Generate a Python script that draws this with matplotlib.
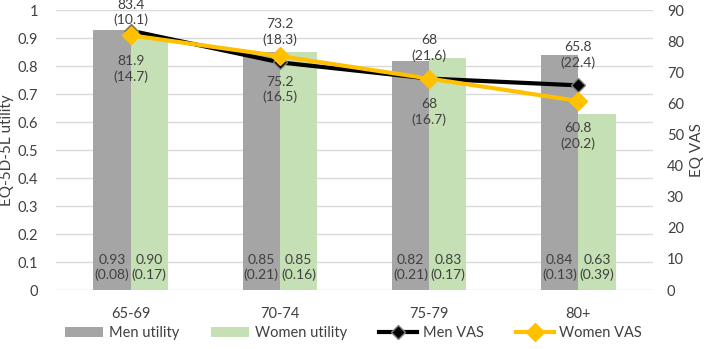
import matplotlib.pyplot as plt
import numpy as np

plt.rcParams['font.family'] = ['Lato', 'DejaVu Sans']

age_groups = ['65-69', '70-74', '75-79', '80+']
men_utility = [0.93, 0.85, 0.82, 0.84]
men_utility_sd = [0.08, 0.21, 0.21, 0.13]
women_utility = [0.90, 0.85, 0.83, 0.63]
women_utility_sd = [0.17, 0.16, 0.17, 0.39]
men_vas = [83.4, 73.2, 68, 65.8]
men_vas_sd = [10.1, 18.3, 21.6, 22.4]
women_vas = [81.9, 75.2, 68, 60.8]
women_vas_sd = [14.7, 16.5, 16.7, 20.2]

# label offsets (points) for the VAS labels, first men label pushed down to fit
men_lab_off = [13, 22, 22, 22]
women_lab_off = [-24, -24, -24, -25]

fig = plt.figure(figsize=(7.07, 3.49), dpi=100)
ax = fig.add_axes([0.0792, 0.169, 0.8444, 0.802])
ax2 = ax.twinx()

x = np.arange(len(age_groups))
w = 0.25
ax.bar(x - w / 2, men_utility, w, color='#A5A5A5', label='Men utility', zorder=2)
ax.bar(x + w / 2, women_utility, w, color='#C5E0B4', label='Women utility', zorder=2)

for i in range(len(x)):
    ax.text(x[i] - w / 2, 0.08, f"{men_utility[i]:.2f}\n({men_utility_sd[i]:.2f})",
            ha='center', va='center', fontsize=10, color='#404040', linespacing=1.3, zorder=3)
    ax.text(x[i] + w / 2, 0.08, f"{women_utility[i]:.2f}\n({women_utility_sd[i]:.2f})",
            ha='center', va='center', fontsize=10, color='#404040', linespacing=1.3, zorder=3)

ax2.plot(x, men_vas, color='black', lw=3, marker='D', ms=7, mfc='black', mec='#808080',
         label='Men VAS', zorder=3)
ax2.plot(x, women_vas, color='#FFC000', lw=3, marker='D', ms=9, mfc='#FFC000', mec='#FFC000',
         label='Women VAS', zorder=4)

for i in range(len(x)):
    ax2.annotate(f"{men_vas[i]:g}\n({men_vas_sd[i]:g})", (x[i], men_vas[i]),
                 xytext=(0, men_lab_off[i]), textcoords='offset points',
                 ha='center', va='center', fontsize=10, color='#404040', linespacing=1.3,
                 annotation_clip=False)
    ax2.annotate(f"{women_vas[i]:g}\n({women_vas_sd[i]:g})", (x[i], women_vas[i]),
                 xytext=(0, women_lab_off[i]), textcoords='offset points',
                 ha='center', va='center', fontsize=10, color='#404040', linespacing=1.3,
                 annotation_clip=False)

ax.set_xlim(-0.5, len(x) - 0.5)
ax.set_ylim(0, 1)
ax2.set_ylim(0, 90)
ax.set_yticks(np.arange(0, 1.01, 0.1))
ax.set_yticklabels(['0', '0.1', '0.2', '0.3', '0.4', '0.5', '0.6', '0.7', '0.8', '0.9', '1'])
ax2.set_yticks(np.arange(0, 91, 10))
ax.set_xticks(x)
ax.set_xticklabels(age_groups)

ax.grid(axis='y', color='#D9D9D9', lw=1, zorder=0)
ax.set_axisbelow(True)
for a in (ax, ax2):
    for s in a.spines.values():
        s.set_visible(False)
    a.tick_params(length=0, labelsize=10.5, colors='#404040')
ax.tick_params(axis='x', pad=12)
ax.tick_params(axis='y', pad=13)
ax2.tick_params(axis='y', pad=10)

ax.set_ylabel('EQ-5D-5L utility', fontsize=11, color='#404040')
ax.yaxis.set_label_coords(-0.07, 0.5)
ax2.set_ylabel('EQ VAS', fontsize=11, color='#404040')
ax2.yaxis.set_label_coords(1.062, 0.5)

h1, l1 = ax.get_legend_handles_labels()
h2, l2 = ax2.get_legend_handles_labels()
fig.legend(h1 + h2, l1 + l2, loc='center', bbox_to_anchor=(0.5, 0.045), ncol=4,
           frameon=False, fontsize=10.5, labelcolor='#404040', handlelength=2.6,
           columnspacing=2.2, handletextpad=0.4)

fig.savefig('out.png', dpi=100)
